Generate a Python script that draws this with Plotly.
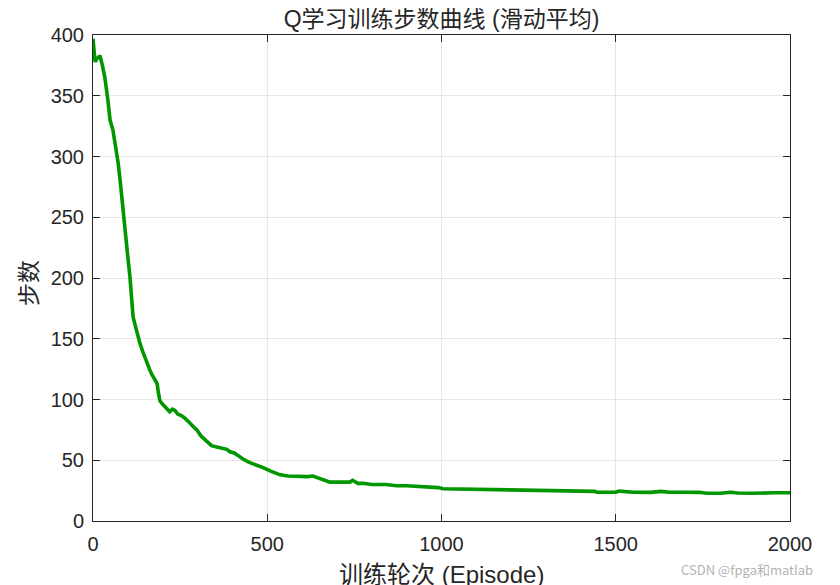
import plotly.graph_objects as go

episodes = [0, 3, 6, 10, 15, 20, 27, 34, 42, 49, 57, 64, 72, 78, 83, 88, 92, 99, 106, 110,
            115, 122, 128, 135, 142, 148, 155, 162, 170, 177, 184, 188, 192, 200, 206, 212,
            220, 228, 235, 243, 252, 262, 270, 280, 290, 298, 310, 320, 327, 340, 355, 370,
            384, 393, 405, 416, 430, 450, 470, 488, 510, 537, 560, 594, 615, 631, 650, 665,
            680, 700, 737, 745, 760, 775, 800, 840, 872, 900, 935, 967, 990, 1005, 1050, 1100,
            1158, 1200, 1254, 1302, 1350, 1400, 1440, 1446, 1500, 1510, 1550, 1600, 1630,
            1650, 1684, 1700, 1740, 1761, 1800, 1830, 1850, 1894, 1950, 2000]
steps = [397, 388, 378, 380, 382, 383, 375, 365, 348, 330, 322, 310, 295, 280, 264, 255, 237,
         220, 201, 185, 168, 160, 152, 146, 140, 135, 130, 125, 120, 116, 113, 105, 99, 96, 94,
         93, 90, 92, 91, 88, 87, 85, 83, 80, 77, 75, 70, 67, 65, 62, 61, 60, 59, 57, 56, 54, 51,
         48, 46, 44, 41, 38, 37, 36.5, 36.5, 37, 35, 33, 32, 32, 32, 33.5, 31, 31, 30, 30, 29,
         29, 28.5, 28, 27.5, 26.5, 26.3, 26, 25.7, 25.5, 25.3, 24.8, 24.6, 24.5, 24.4, 23.7,
         23.8, 24.6, 23.7, 23.6, 24.4, 23.8, 24.1, 23.7, 23.6, 22.8, 22.9, 23.6, 23.1, 22.8,
         23.2, 23.3]

x_ticks = [0, 500, 1000, 1500, 2000]
y_ticks = [0, 50, 100, 150, 200, 250, 300, 350, 400]

title_text = "Q学习训练步数曲线 (滑动平均)"
x_label = "训练轮次 (Episode)"
y_label = "步数"
watermark = "CSDN @fpga和matlab"

latin = "Liberation Sans, Arial, Noto Sans CJK SC, sans-serif"
ink = "#262626"

fig = go.Figure()
fig.add_trace(go.Scatter(x=episodes, y=steps, mode="lines",
                         line=dict(color="rgb(0,150,0)", width=3.6),
                         showlegend=False))

axis_common = dict(showline=True, linecolor=ink, linewidth=1, mirror="ticks",
                   ticks="inside", ticklen=7, tickcolor=ink,
                   showgrid=True, gridcolor="#e6e6e6", gridwidth=1, zeroline=False,
                   automargin=False,
                   tickfont=dict(family=latin, size=20, color=ink))

fig.update_layout(
    width=832, height=577,
    margin=dict(l=85, r=50, t=27, b=64, autoexpand=False),
    paper_bgcolor="white", plot_bgcolor="white",
    title=dict(text=title_text, x=0.5, xanchor="center", xref="paper",
               y=1 - 11 / 577, yanchor="middle",
               font=dict(family=latin, size=23, color=ink)),
    xaxis=dict(range=[0, 2000], tickvals=x_ticks, ticklabelstandoff=5, **axis_common),
    yaxis=dict(range=[0, 400], tickvals=y_ticks, ticklabelstandoff=4, **axis_common),
)

fig.add_annotation(text=x_label, xref="paper", yref="paper", x=0.5, y=(513 - 566) / 486,
                   xanchor="center", yanchor="middle", showarrow=False,
                   font=dict(family=latin, size=24, color=ink))
fig.add_annotation(text=y_label, xref="paper", yref="paper", x=(19 - 85) / 697,
                   y=(513 - 275) / 486, textangle=-90,
                   xanchor="center", yanchor="middle", showarrow=False,
                   font=dict(family="Noto Sans CJK SC, sans-serif", size=23, color=ink))
fig.add_annotation(text=watermark, xref="paper", yref="paper", x=(807 - 85) / 697,
                   y=(513 - 561) / 486,
                   xanchor="right", yanchor="middle", showarrow=False,
                   font=dict(family="Noto Sans CJK SC, sans-serif", size=13, color="#b4b4b4"))

fig.write_html("out.html")
